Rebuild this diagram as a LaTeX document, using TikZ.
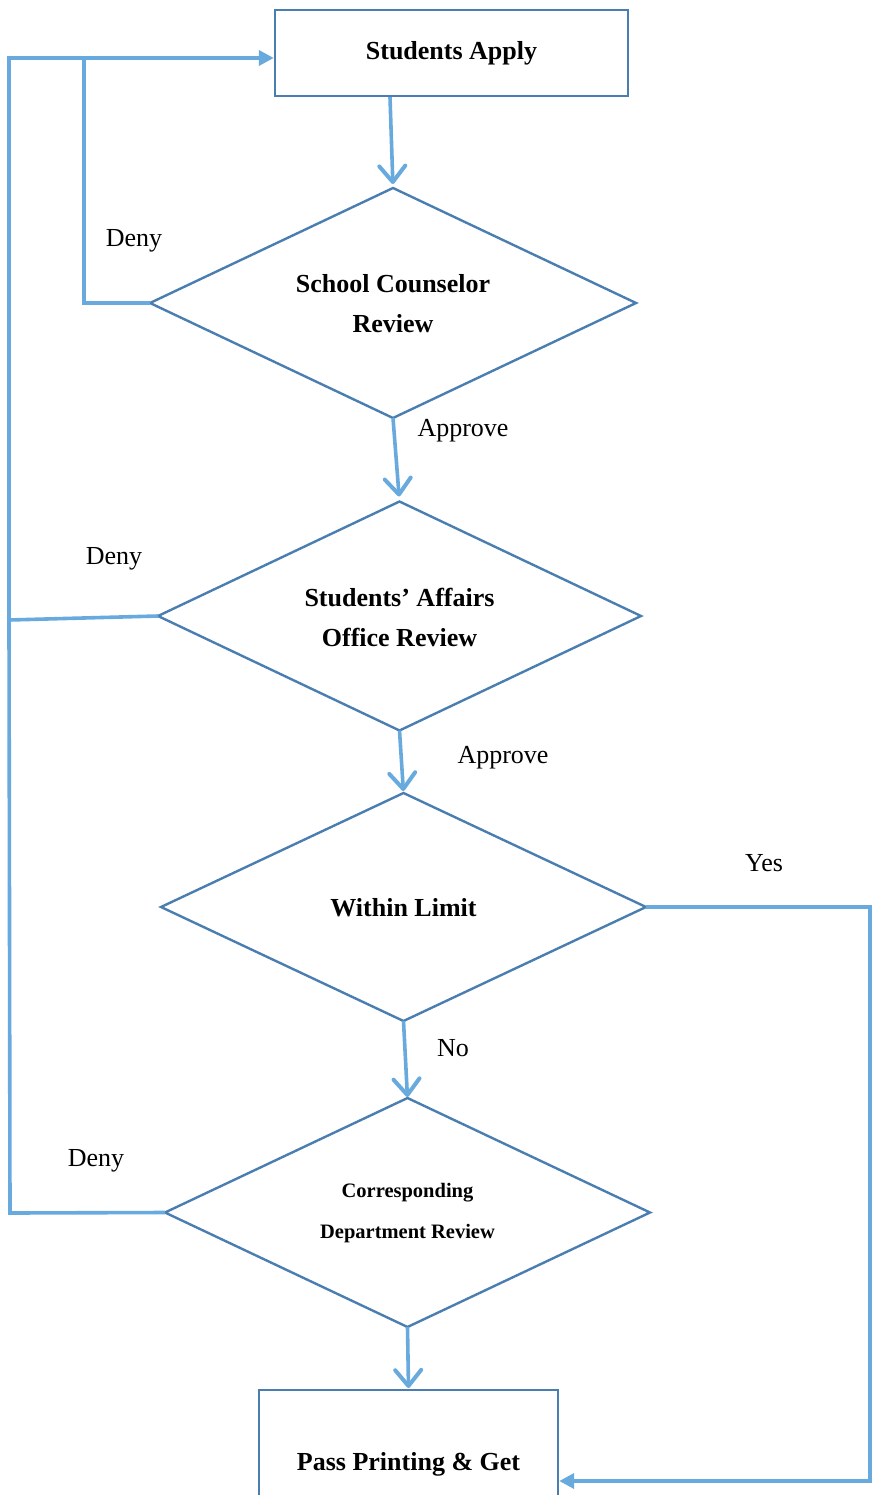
\documentclass[tikz,border=0pt]{standalone}
\usepackage{fontspec}
\setmainfont{Liberation Serif}
\usetikzlibrary{shapes.geometric,arrows.meta}
\definecolor{connblue}{RGB}{104,170,221}
\definecolor{shapeblue}{RGB}{74,126,176}
\tikzset{
  conn/.style={draw=connblue,line width=3.6pt},
  openarrow/.style={conn,-{Straight Barb[length=16pt,width=26pt,line width=4pt,round]}},
  filledarrow/.style={conn,-{Triangle[length=15pt,width=15pt]}},
  boxnode/.style={draw=shapeblue,line width=2.4pt,rectangle,inner sep=0pt,
    font=\fontsize{26}{40}\selectfont\bfseries,align=center},
  decision/.style={draw=shapeblue,line width=2.4pt,diamond,inner sep=0pt,outer sep=0pt},
  dtext/.style={font=\fontsize{26}{40}\selectfont\bfseries,align=center},
  lbl/.style={font=\fontsize{26}{30}\selectfont,inner sep=0pt}
}
\begin{document}
\begin{tikzpicture}[x=1pt,y=-1pt]
\useasboundingbox (0,0) rectangle (873,1495);
\clip (0,0) rectangle (873,1495);
% nodes
\node[boxnode,minimum width=353pt,minimum height=86pt] (b1) at (451.5,53) {\raisebox{-2pt}{Students Apply}};
\node[decision,minimum width=486pt,minimum height=230pt,
  label={[dtext,yshift=-1pt]center:{School Counselor\\Review}}] (d1) at (393,303) {};
\node[decision,minimum width=483pt,minimum height=229pt,
  label={[dtext,yshift=-1pt]center:{Students’ Affairs\\Office Review}}] (d2) at (399.5,616) {};
\node[decision,minimum width=485pt,minimum height=228pt,
  label={[dtext,yshift=-1pt]center:{Within Limit}}] (d3) at (403.5,907) {};
\node[decision,minimum width=485pt,minimum height=229pt,
  label={[dtext,yshift=-1pt,font=\fontsize{20.5}{41}\selectfont\bfseries]center:{Corresponding\\Department Review}}] (d4) at (407.5,1212.5) {};
\node[boxnode,minimum width=299pt,minimum height=148pt,anchor=north] (b2) at (408.5,1389) {\raisebox{-2pt}{Pass Printing \& Get}};
% labels
\node[lbl] (l1) at (134,241) {Deny};
\node[lbl] (l2) at (463,431) {Approve};
\node[lbl] (l3) at (114,559) {Deny};
\node[lbl] (l4) at (503,758) {Approve};
\node[lbl] (l5) at (764,863) {Yes};
\node[lbl] (l6) at (453,1048) {No};
\node[lbl] (l7) at (96,1161) {Deny};
% coordinates
\coordinate (c1) at (84,58);
\coordinate (c2) at (9,620);
\coordinate (c3) at (9,58);
\coordinate (c4) at (10,1213);
\coordinate (c5) at (870,907);
\coordinate (c6) at (870,1481);
% main flow
\draw[openarrow,shorten >=4pt] (b1.south -| 390,0) -- (d1.north);
\draw[openarrow,shorten >=5pt] (d1.south) -- (d2.north);
\draw[openarrow,shorten >=2pt] (d2.south) -- (d3.north);
\draw[openarrow,shorten >=1pt] (d3.south) -- (d4.north);
\draw[openarrow,shorten >=1pt] (d4.south) -- (b2.north);
% deny loops
\draw[filledarrow] (d1.west) -| (c1) -- (b1.west |- c1);
\draw[conn] (d2.west) -- (c2) -- (c3) -- (c1);
\draw[conn] (d4.west) -- (c4) -- (c2);
% yes path
\draw[filledarrow] (d3.east) -- (c5) -- (c6) -- (b2.east |- c6);
\end{tikzpicture}
\end{document}
